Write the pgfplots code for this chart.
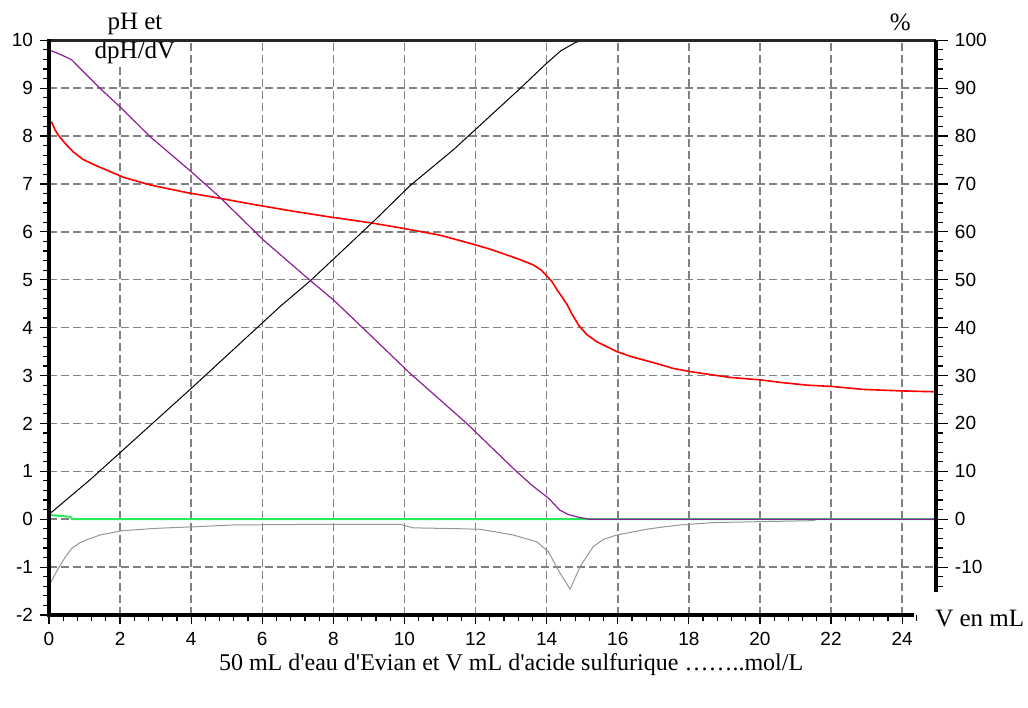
\documentclass[border=0pt]{standalone}
\usepackage{fontspec}
\setmainfont{Liberation Serif}
\newfontfamily\tickfont{Liberation Sans}
\usepackage{pgfplots}
\pgfplotsset{compat=1.18}
\definecolor{phred}{RGB}{255,0,0}
\definecolor{pctpurple}{RGB}{140,30,150}
\definecolor{lgreen}{RGB}{40,235,90}
\definecolor{dgray}{RGB}{150,150,150}
\definecolor{gridgray}{RGB}{128,128,128}

\begin{document}
\begin{tikzpicture}
\begin{axis}[
  x=17.775pt, y=23.95pt,
  xmin=0, xmax=24.95, ymin=-2, ymax=10,
  axis lines*=left,
  axis line style={draw=none},
  clip=false,
  xtick={0,2,...,24},
  minor xtick={0,0.4,...,24.2},
  ytick={-1,0,...,10},
  extra y ticks={-2},
  extra y tick style={grid=none},
  minor ytick={-2,-1.8,...,10},
  tick align=outside,
  major tick length=4.5pt,
  minor tick length=3pt,
  tick style={black, line width=0.6pt},
  grid=major,
  major grid style={gridgray, dash pattern=on 4pt off 2pt, line width=0.75pt},
  ticklabel style={font=\tickfont\fontsize{9.5}{11}\selectfont},
  xticklabel style={yshift=-3pt, inner sep=1pt},
  /pgf/number format/assume math mode=true,
]
% dpH/dV
\addplot[dgray, line width=0.5pt] coordinates {
  (0,-1.39) (0.1,-1.25) (0.26,-1.03) (0.45,-0.8) (0.64,-0.61) (0.85,-0.5)
  (1.06,-0.43) (1.43,-0.33) (2.06,-0.24) (3.03,-0.19) (4.01,-0.16) (5.18,-0.12)
  (7,-0.11) (9.9,-0.11) (10.24,-0.18) (11.65,-0.2) (12.12,-0.21) (12.45,-0.25)
  (13.06,-0.33) (13.72,-0.47) (14.05,-0.68) (14.37,-1.12) (14.66,-1.46)
  (14.94,-0.99) (15.31,-0.57) (15.6,-0.42) (15.97,-0.33) (16.81,-0.21)
  (17.19,-0.17) (17.75,-0.12) (18.7,-0.07) (21.5,-0.03) (21.6,0) (24.95,0)
};
% green
\addplot[lgreen, line width=1pt] coordinates {
  (0,0.09) (0.6,0.05) (0.65,0) (24.95,0)
};
% pH
\addplot[phred, line width=0.8pt] coordinates {
  (0,8.3) (0.08,8.28) (0.17,8.13) (0.26,8.02) (0.45,7.85) (0.68,7.67)
  (0.96,7.51) (1.3,7.39) (1.62,7.29) (2.09,7.14) (2.84,6.98) (3.87,6.82)
  (4.81,6.70) (5.84,6.56) (6.87,6.43) (7.9,6.31) (9.12,6.18) (10.06,6.06)
  (11.0,5.93) (11.94,5.74) (12.4,5.64) (12.87,5.52) (13.25,5.42) (13.62,5.31)
  (13.85,5.2) (14.0,5.08) (14.14,4.97) (14.3,4.78) (14.45,4.62) (14.56,4.5)
  (14.7,4.3) (14.9,4.05) (15.12,3.86) (15.4,3.71) (15.7,3.6) (15.97,3.5)
  (16.4,3.39) (16.9,3.29) (17.19,3.23) (17.55,3.15) (18.05,3.08) (19.16,2.96)
  (20.0,2.91) (20.65,2.85) (21.31,2.80) (22.05,2.77) (22.9,2.71) (23.94,2.68)
  (24.95,2.66)
};
% % (black)
\addplot[black, line width=0.5pt] coordinates {
  (0,0.1) (1.15,0.82) (4,2.73) (6.5,4.44) (7.34,4.97) (9.12,6.21) (10.15,6.96)
  (11.37,7.71) (13.25,8.99) (14.0,9.52) (14.4,9.78) (14.8,9.95) (15.0,10) (15.4,10)
};
% % (purple)
\addplot[pctpurple, line width=0.6pt] coordinates {
  (0,9.8) (0.36,9.69) (0.64,9.59) (1.43,9.0) (2.04,8.58) (2.84,7.99) (4.01,7.25)
  (4.81,6.72) (6.03,5.83) (7.34,4.99) (8.0,4.58) (8.75,4.05) (10.15,3.05)
  (11.75,2.0) (13.16,0.99) (13.6,0.7) (14.05,0.44) (14.37,0.19) (14.6,0.1)
  (14.9,0.04) (15.2,0) (24.95,0)
};
\node[anchor=base, font=\fontsize{12.5}{14}\selectfont] at (axis cs:2.42,10.23) {pH et};
\node[anchor=base, fill=white, inner sep=1pt, font=\fontsize{12.5}{14}\selectfont] at (axis cs:2.42,9.61) {dpH/dV};
\node[anchor=base, font=\fontsize{12.5}{14}\selectfont] at (axis cs:23.95,10.21) {\%};
\node[anchor=base west, inner sep=0pt, font=\fontsize{12.5}{14}\selectfont] at (axis cs:24.92,-2.25) {V en mL};
\node[anchor=base, inner sep=0pt, font=\fontsize{12}{14}\selectfont] at (axis cs:13.0,-3.16)
  {50 mL d\textquotesingle eau d\textquotesingle Evian et V mL d\textquotesingle acide sulfurique ……..mol/L};
\coordinate (TL) at (axis cs:0,10);
\coordinate (BL) at (axis cs:0,-2);
\coordinate (BE) at (axis cs:24.3,-2);
\coordinate (TR) at (axis cs:24.95,10);
\coordinate (RE) at (axis cs:24.95,-1.51);
\path (axis cs:-1.378,10.84) rectangle (axis cs:27.54,-3.94);
\end{axis}
\begin{axis}[
  x=17.775pt, y=2.395pt,
  xmin=0, xmax=24.95, ymin=-20, ymax=100,
  hide x axis,
  axis y line*=right,
  axis line style={draw=none},
  ytick={-10,0,...,100},
  minor ytick={-14,-12,...,98},
  tick align=outside,
  major tick length=6pt,
  minor tick length=3.5pt,
  tick style={black, line width=0.6pt},
  ticklabel style={font=\tickfont\fontsize{9.5}{11}\selectfont},
  /pgf/number format/assume math mode=true,
]
\addplot[draw=none] coordinates {(0,0)};
\end{axis}
\draw[black!85, line width=1.3pt] (TL) -- (TR);
\draw[line width=1.6pt, line cap=rect] (TL) -- (BL) -- (BE);
\draw[line width=1.6pt] (TR) -- (RE);
\end{tikzpicture}
\end{document}
